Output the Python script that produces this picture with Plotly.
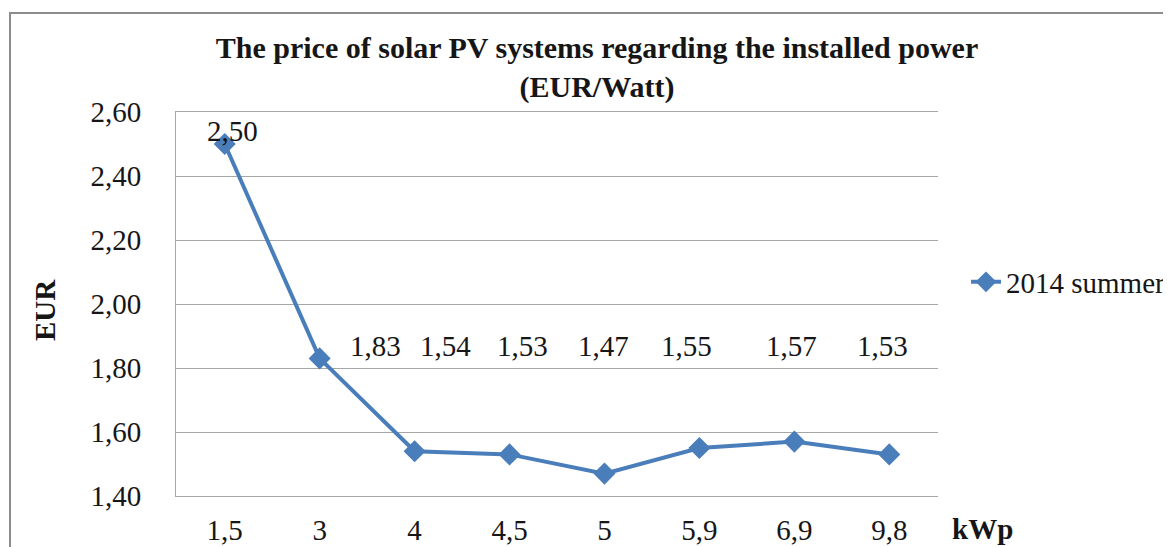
import plotly.graph_objects as go

categories = ["1,5", "3", "4", "4,5", "5", "5,9", "6,9", "9,8"]
prices = [2.50, 1.83, 1.54, 1.53, 1.47, 1.55, 1.57, 1.53]
series_name = "2014 summer"
y_ticks = [1.40, 1.60, 1.80, 2.00, 2.20, 2.40, 2.60]

# label placement styling (pixel shifts)
label_xshift = [8, 56, 31, 13, -1, -13, -3, -7]

W, H = 1171, 547
OFF = 8  # page body margin compensation
px0, px1, py0, py1 = 176 - OFF, 938 - OFF, 112 - OFF, 496 - OFF
L, R, T, B = px0, W - px1, py0, H - py1
pw, ph = px1 - px0, py1 - py0

def fx(p):
    return (p - OFF - px0) / pw

def fy(p):
    return (py1 - (p - OFF)) / ph

SERIF = "Liberation Serif"
BLUE = "#4a7ebb"
FS = 29
INK = "#161616"

fig = go.Figure()
fig.add_trace(go.Scatter(
    x=categories, y=prices, mode="lines+markers", name=series_name,
    line=dict(color=BLUE, width=4),
    marker=dict(symbol="diamond", size=17, color=BLUE),
))

def fmt(v):
    return f"{v:.2f}".replace(".", ",")

ann = []
for i, v in enumerate(prices):
    if i == 0:
        ann.append(dict(x=i, y=v, text=fmt(v), showarrow=False, xshift=label_xshift[i],
                        yshift=13, font=dict(family=SERIF, size=FS, color=INK)))
    else:
        ann.append(dict(x=i, y=1.87, text=fmt(v), showarrow=False, xshift=label_xshift[i],
                        font=dict(family=SERIF, size=FS, color=INK)))

ann.append(dict(xref="paper", yref="paper", x=fx(45), y=fy(310),
                xanchor="center", yanchor="middle",
                text="<b>EUR</b>", textangle=-90, showarrow=False,
                font=dict(family=SERIF, size=FS, color=INK)))
ann.append(dict(xref="paper", yref="paper", x=fx(983), y=fy(529),
                xanchor="center", yanchor="middle",
                text="<b>kWp</b>", showarrow=False,
                font=dict(family=SERIF, size=FS, color=INK)))

fig.update_layout(
    width=W, height=H,
    margin=dict(l=L, r=R, t=T, b=B, autoexpand=False),
    paper_bgcolor="white", plot_bgcolor="white",
    separators=",.",
    title=dict(text="<b>The price of solar PV systems regarding the installed power<br>(EUR/Watt)</b>",
               x=(597 - OFF) / W, xanchor="center", xref="container",
               y=1 - 50 / H, yanchor="top", yref="container",
               font=dict(family=SERIF, size=30, color=INK)),
    showlegend=True,
    legend=dict(x=fx(966), y=fy(282), xanchor="left", yanchor="middle",
                font=dict(family=SERIF, size=FS, color=INK), bgcolor="rgba(0,0,0,0)",
                itemwidth=30),
    annotations=ann,
    shapes=[dict(type="rect", xref="paper", yref="paper",
                 x0=fx(10), x1=1.6, y0=-0.4, y1=fy(13),
                 line=dict(color="#8c8c8c", width=2), layer="below")],
    xaxis=dict(type="category", showgrid=False, zeroline=False, automargin=False,
               showline=True, linecolor="#a6a6a6", linewidth=1, mirror=True,
               ticks="", ticklabelstandoff=8,
               tickfont=dict(family=SERIF, size=FS, color=INK)),
    yaxis=dict(range=[1.40, 2.60], tickvals=y_ticks, tickformat=".2f", automargin=False,
               showgrid=True, gridcolor="#a6a6a6", gridwidth=1,
               showline=True, linecolor="#a6a6a6", linewidth=1, zeroline=False,
               ticks="", ticklabelstandoff=28,
               tickfont=dict(family=SERIF, size=FS, color=INK)),
)

fig.write_html("out.html")
